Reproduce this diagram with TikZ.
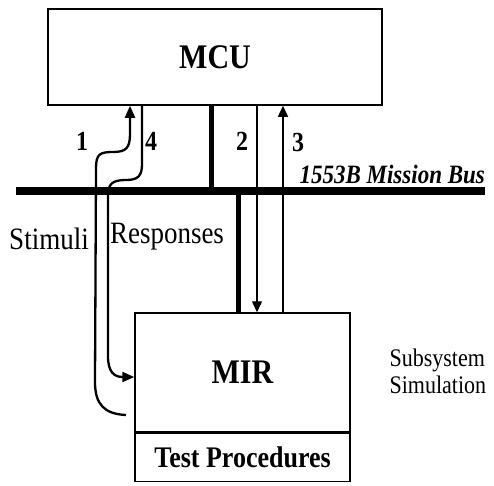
\documentclass[tikz,border=0pt]{standalone}
\usepackage{fontspec}
\setmainfont{Liberation Serif}
\usetikzlibrary{arrows.meta}
% slightly tall lettering
\newcommand{\tallText}[1]{\scalebox{1}[1.15]{#1}}
\begin{document}
\begin{tikzpicture}[x=1pt,y=1pt,
  box/.style={draw, line width=1.5pt, inner sep=0pt, font=\fontsize{30}{32}\selectfont\bfseries},
  tpbox/.style={draw, line width=1.5pt, inner sep=0pt, font=\fontsize{26}{28}\selectfont\bfseries},
  bus/.style={line width=8pt},
  stub/.style={line width=5pt},
  msg/.style={line width=1.4pt, -{Triangle[length=11pt,width=10pt]}},
  sig/.style={line width=2.3pt},
  sigarrow/.style={sig, -{Triangle[length=12pt,width=10pt]}},
  num/.style={font=\fontsize{24}{26}\selectfont\bfseries},
  lbl/.style={font=\fontsize{27}{29}\selectfont},
  sub/.style={font=\fontsize{22}{27}\selectfont, align=left}
]
\useasboundingbox (0,0) rectangle (494,-485);

% blocks
\node[box, minimum width=334, minimum height=96] (mcu) at (215,-57) {\tallText{MCU}};
\node[box, minimum width=215, minimum height=119] (mir) at (242.5,-372.5) {\tallText{MIR}};
\node[tpbox, minimum width=215, minimum height=48, anchor=north] (tp) at (mir.south) {\tallText{Test Procedures}};

% 1553B mission bus and its stubs
\coordinate (busW) at (16,-191);
\coordinate (busE) at (485,-191);
\draw[bus] (busW) -- (busE);
\coordinate (tapMCU) at (211,-191);
\coordinate (tapMIR) at (238,-191);
\draw[stub] (tapMCU |- mcu.south) -- (tapMCU);
\draw[stub] (tapMIR) -- (tapMIR |- mir.north);

% bus messages
\coordinate (m2) at (257,0);
\coordinate (m3) at (283,0);
\draw[msg] (m2 |- mcu.south) -- (m2 |- mir.north);
\draw[msg] (m3 |- mir.north) -- (m3 |- mcu.south);

% stimuli path: MIR back up to MCU
\coordinate (stimEnd) at (126,-415);
\draw[sigarrow] (stimEnd) .. controls (104,-414) and (95,-404) .. (95,-382)
  -- (96,-168) .. controls (96,-154) and (100,-152) .. (113,-152)
  .. controls (126,-152) and (130,-148) .. (130,-134)
  -- (mcu.south -| 130,0);

% responses path: MCU down to MIR
\coordinate (respStart) at (142,0);
\draw[sigarrow] (respStart |- mcu.south) -- (142,-164)
  .. controls (142,-176) and (138,-180) .. (126,-180)
  .. controls (112,-180) and (108,-184) .. (108,-196)
  -- (108,-356) .. controls (108,-372) and (114,-377) .. (mir.west |- 0,-377);

% labels
\node[num] (n1) at (82,-141) {\tallText{1}};
\node[num] (n4) at (151,-141) {\tallText{4}};
\node[num] (n2) at (242,-141) {\tallText{2}};
\node[num] (n3) at (298,-142) {\tallText{3}};
\node[font=\fontsize{23}{25}\selectfont\bfseries\itshape, anchor=base west] (busname) at (296,-183) {\tallText{1553B Mission Bus}};
\node[lbl] (stim) at (49,-239) {\tallText{Stimuli}};
\node[lbl] (resp) at (167,-237) {\tallText{Responses}};
\node[sub, anchor=west] (subsim) at (386,-371) {\tallText{Subsystem}\\\tallText{Simulation}};
\end{tikzpicture}
\end{document}
